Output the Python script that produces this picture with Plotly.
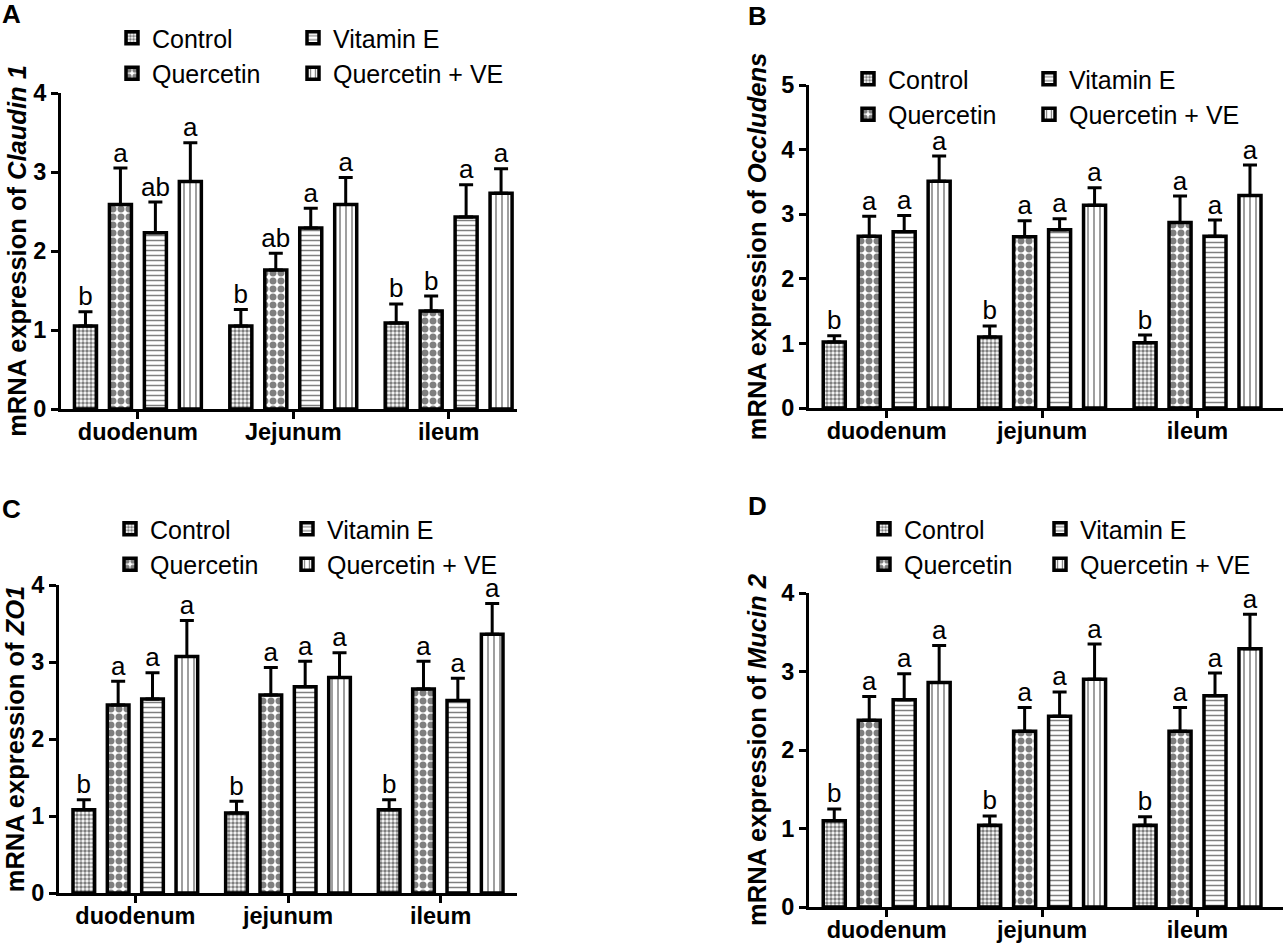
import plotly.graph_objects as go

# ---------------- data ----------------
groups = ["Control", "Quercetin", "Vitamin E", "Quercetin + VE"]
sites_a = ["duodenum", "Jejunum", "ileum"]
sites = ["duodenum", "jejunum", "ileum"]

# Panel A - Claudin 1 (rows: Control, Quercetin, Vitamin E, Quercetin + VE)
claudin_mean = [[1.05, 1.05, 1.09], [2.59, 1.76, 1.24], [2.23, 2.29, 2.43], [2.88, 2.59, 2.73]]
claudin_sem = [[0.18, 0.21, 0.24], [0.46, 0.21, 0.19], [0.39, 0.25, 0.41], [0.49, 0.34, 0.31]]
claudin_letters = [["b", "b", "b"], ["a", "ab", "b"], ["ab", "a", "a"], ["a", "a", "a"]]

# Panel B - Occludens
occludens_mean = [[1.02, 1.10, 1.01], [2.66, 2.65, 2.87], [2.73, 2.76, 2.66], [3.51, 3.14, 3.29]]
occludens_sem = [[0.10, 0.17, 0.12], [0.31, 0.25, 0.41], [0.25, 0.17, 0.25], [0.39, 0.27, 0.47]]
occludens_letters = [["b", "b", "b"], ["a", "a", "a"], ["a", "a", "a"], ["a", "a", "a"]]

# Panel C - ZO1
zo1_mean = [[1.08, 1.04, 1.08], [2.44, 2.57, 2.65], [2.52, 2.68, 2.50], [3.07, 2.80, 3.36]]
zo1_sem = [[0.13, 0.15, 0.13], [0.31, 0.36, 0.36], [0.34, 0.33, 0.29], [0.47, 0.32, 0.40]]
zo1_letters = [["b", "b", "b"], ["a", "a", "a"], ["a", "a", "a"], ["a", "a", "a"]]

# Panel D - Mucin 2
mucin_mean = [[1.10, 1.04, 1.04], [2.38, 2.24, 2.24], [2.64, 2.43, 2.69], [2.86, 2.90, 3.29]]
mucin_sem = [[0.15, 0.12, 0.11], [0.30, 0.30, 0.30], [0.33, 0.31, 0.29], [0.47, 0.45, 0.44]]
mucin_letters = [["b", "b", "b"], ["a", "a", "a"], ["a", "a", "a"], ["a", "a", "a"]]

# ---------------- layout helpers ----------------
W, H = 1283, 945
FONT = "Liberation Sans, Arial, sans-serif"

def px_x(p):
    return p / W

def px_y(p):
    return 1 - p / H

patterns = [
    dict(shape=".", size=4, solidity=0.6),
    dict(shape=".", size=8, solidity=0.6),
    dict(shape="-", size=5, solidity=0.3),
    dict(shape="|", size=6, solidity=0.25),
]

panels = [
    dict(key="A", cats=sites_a, mean=claudin_mean, sem=claudin_sem, letters=claudin_letters,
         gene="Claudin 1", ymax=4, xdom=(61, 517), ydom=(409, 93), xr=(-0.495, 2.44),
         leg=((112, 15), (293, 15)), lab=(0, -3), standoff=0),
    dict(key="B", cats=sites, mean=occludens_mean, sem=occludens_sem, letters=occludens_letters,
         gene="Occludens", ymax=5, xdom=(809, 1283), ydom=(408, 85), xr=(-0.5, 2.55),
         leg=((848, 56), (1029, 56)), lab=(746, -1), standoff=8),
    dict(key="C", cats=sites, mean=zo1_mean, sem=zo1_sem, letters=zo1_letters,
         gene="ZO1", ymax=4, xdom=(59, 517), ydom=(893, 585), xr=(-0.5, 2.5),
         leg=((110, 506), (287, 506)), lab=(0, 492), standoff=0),
    dict(key="D", cats=sites, mean=mucin_mean, sem=mucin_sem, letters=mucin_letters,
         gene="Mucin 2", ymax=4, xdom=(809, 1283), ydom=(907, 593), xr=(-0.5, 2.55),
         leg=((864, 506), (1040, 506)), lab=(746, 489), standoff=8),
]

fig = go.Figure()
layout = dict(
    width=W, height=H, margin=dict(l=0, r=0, t=0, b=0, autoexpand=False),
    paper_bgcolor="white", plot_bgcolor="white",
    font=dict(family=FONT, color="black"),
    barmode="group", bargap=0.1, bargroupgap=0.37,
    scattermode="group", scattergap=0.1,
    showlegend=True,
)
annotations = []

for i, p in enumerate(panels):
    n = i + 1
    xa = "x" if n == 1 else f"x{n}"
    ya = "y" if n == 1 else f"y{n}"
    leg1 = "legend" if n == 1 else f"legend{2 * n - 1}"
    leg2 = f"legend{2 * n}"
    for j, g in enumerate(groups):
        legname = leg1 if j in (0, 1) else leg2
        fig.add_trace(go.Bar(
            x=p["cats"], y=p["mean"][j], name=g,
            xaxis=xa, yaxis=ya, offsetgroup=str(j),
            legend=legname, legendgroup=f"{p['key']}{j}",
            marker=dict(color="white", line=dict(color="black", width=3.5),
                        pattern=dict(fgcolor="black", bgcolor="white", **patterns[j])),
            error_y=dict(type="data", array=p["sem"][j], arrayminus=[0] * 3, symmetric=False,
                         thickness=3, width=7, color="black"),
        ))
        tops = [m + s for m, s in zip(p["mean"][j], p["sem"][j])]
        fig.add_trace(go.Scatter(
            x=p["cats"], y=tops, mode="text", text=p["letters"][j],
            textposition="top center", textfont=dict(size=26, color="black", family=FONT),
            xaxis=xa, yaxis=ya, offsetgroup=str(j), showlegend=False, cliponaxis=False,
            hoverinfo="skip",
        ))
    x0, x1 = p["xdom"]
    yb, yt = p["ydom"]
    xkey = "xaxis" if n == 1 else f"xaxis{n}"
    ykey = "yaxis" if n == 1 else f"yaxis{n}"
    layout[xkey] = dict(
        domain=[px_x(x0), min(px_x(x1), 1.0)], anchor=ya, range=list(p["xr"]),
        showline=True, linecolor="black", linewidth=3, showgrid=False, zeroline=False,
        ticks="outside", ticklen=7, tickwidth=3, tickcolor="black", ticklabelstandoff=-7,
        tickfont=dict(size=23.5, family=FONT, weight="bold"), automargin=False,
    )
    layout[ykey] = dict(
        domain=[px_y(yb), px_y(yt)], anchor=xa, range=[0, p["ymax"]], dtick=1,
        showline=True, linecolor="black", linewidth=3, showgrid=False, zeroline=False,
        ticks="outside", ticklen=7, tickwidth=3, tickcolor="black",
        tickfont=dict(size=23.5, family=FONT, weight="bold"), automargin=False,
        title=dict(text=f"<b>mRNA expression of <i>{p['gene']}</i></b>",
                   font=dict(size=25.5, family=FONT), standoff=p["standoff"]),
    )
    for k, (lx, ly) in enumerate(p["leg"]):
        lk = leg1 if k == 0 else leg2
        layout[lk] = dict(
            x=px_x(lx), y=px_y(ly), xanchor="left", yanchor="top",
            orientation="v", bgcolor="rgba(0,0,0,0)", borderwidth=0,
            font=dict(size=25, family=FONT), tracegroupgap=0, itemwidth=30,
        )
    lxp, lyp = p["lab"]
    annotations.append(dict(
        text=f"<b>{p['key']}</b>", x=px_x(lxp), y=px_y(lyp), xref="paper", yref="paper",
        xanchor="left", yanchor="top", showarrow=False, font=dict(size=26, family=FONT),
    ))

layout["annotations"] = annotations
fig.update_layout(**layout)
fig.write_html("out.html", config={"displayModeBar": False},
               post_script="document.body.style.margin='0px';")
